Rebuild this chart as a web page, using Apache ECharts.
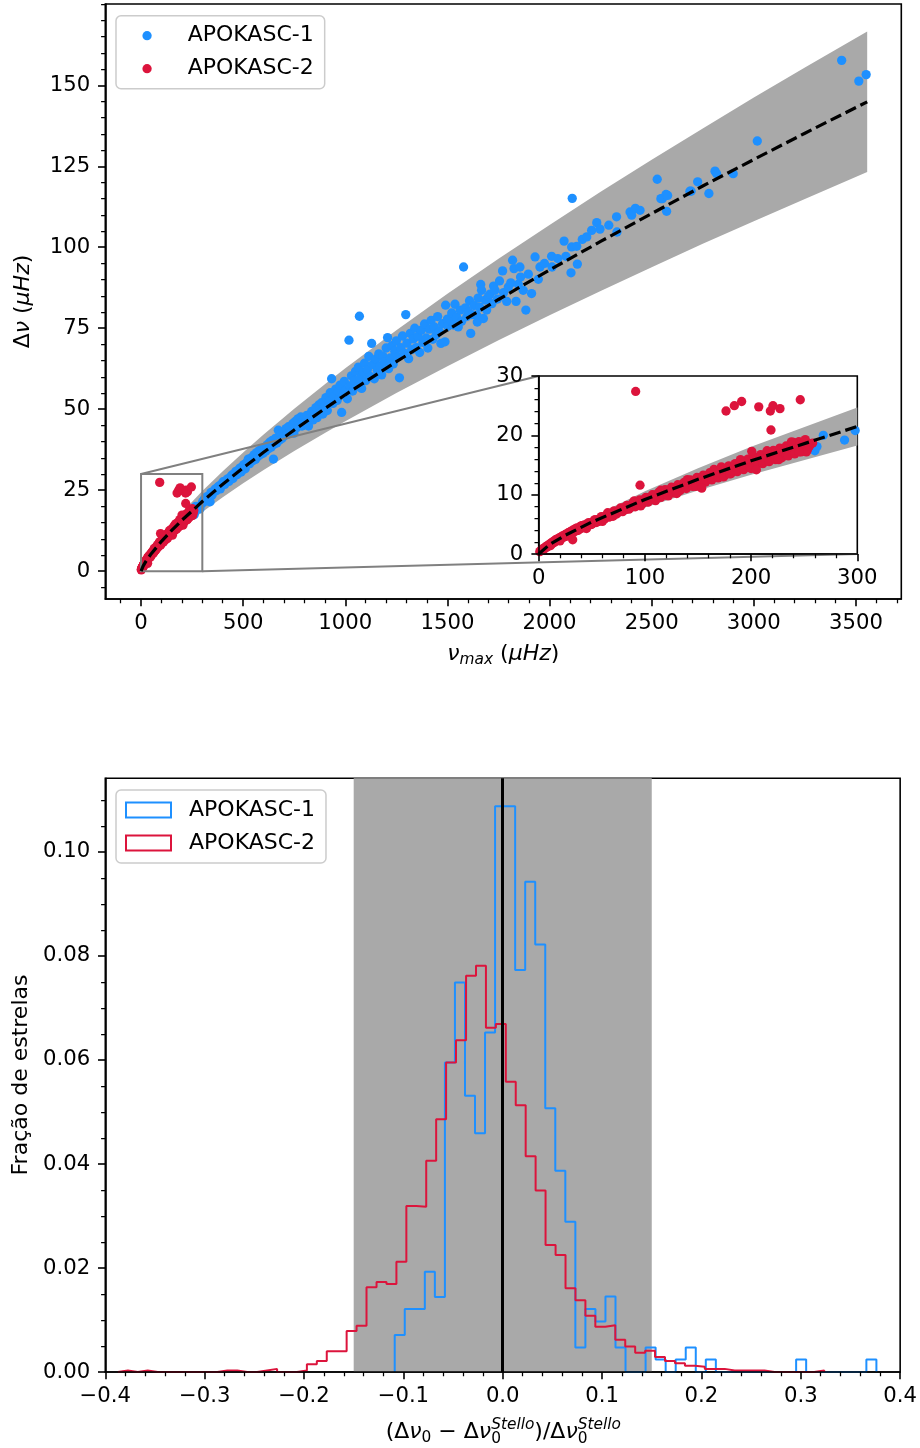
<!DOCTYPE html>
<html><head><meta charset="utf-8">
<script src="https://cdn.jsdelivr.net/npm/echarts@6/dist/echarts.min.js"></script>
<style>html,body{margin:0;padding:0;background:#fff}#c{width:920px;height:1448px}</style>
</head><body><div id="c"></div>
<script>
// ---------------- DATA ----------------
const seriesNames = ['APOKASC-1', 'APOKASC-2'];

// Δν vs νmax, APOKASC-1 (blue)
const apokasc1 = [
[260,17.4],[262,18.1],[268,20.0],[288,19.2],[298,20.8],[302,21.5],[310,22.3],[316,21.6],[323,23.0],[330,22.6],[338,21.4],[342,24.3],[348,23.5],[355,24.6],[362,25.3],[368,24.8],[375,25.9],[382,26.3],[388,25.4],[395,26.9],[402,27.6],[410,26.8],[416,28.0],[424,28.5],[430,27.7],[437,29.0],[444,29.6],[450,28.6],[457,30.1],[464,30.8],[470,29.8],[477,31.2],[484,31.8],[490,30.6],[497,32.4],[504,32.9],[510,31.6],[518,33.6],
[525,34.6],[532,33.2],[540,35.0],[547,34.1],[553,35.9],[560,34.5],[566,36.6],[572,35.4],[579,37.2],[585,36.0],[592,37.9],[598,36.4],[605,38.2],[611,37.1],[618,39.0],[624,37.8],[630,39.8],[637,38.3],[643,40.4],[648,34.6],[652,39.2],[658,41.0],[665,39.6],[672,43.5],[678,40.5],[684,42.3],[690,41.0],[697,43.0],[703,41.8],[710,44.0],[716,42.2],[722,44.6],[729,44.5],[735,43.1],[742,45.5],[748,42.6],[755,46.2],[762,44.3],[768,47.0],[775,45.1],[782,47.6],[788,44.8],[795,46.8],
[805,46.0],[812,48.1],[820,44.8],[828,47.5],[835,49.3],[842,46.7],[850,48.4],[856,50.5],[862,47.4],[870,51.3],[876,49.0],[884,52.0],[890,48.5],[898,50.8],[905,53.6],[912,49.6],[920,52.4],[926,55.1],[933,59.4],[940,51.8],[946,54.0],[953,56.2],[960,52.7],[966,55.5],[974,57.4],[982,49.0],[988,54.4],[995,58.6],[1002,55.8],[1010,53.2],[1018,71.3],[1022,57.2],[1030,60.3],[1036,55.6],[1044,58.8],[1050,61.7],[1058,57.1],[1064,63.0],[1069,78.7],[1072,59.5],[1080,56.4],[1088,61.4],[1094,64.2],[1100,58.8],[1108,62.2],[1115,66.3],[1122,60.1],[1129,70.3],[1135,63.8],[1142,59.4],[1150,65.5],[1156,62.0],[1164,67.1],[1170,63.4],[1178,60.6],[1185,66.3],[1192,64.6],[1200,68.9],[1207,72.1],[1212,62.5],[1220,65.8],[1228,69.6],[1235,64.0],[1242,67.9],[1250,71.1],[1258,66.2],[1265,59.7],[1272,69.0],[1280,72.6],[1288,67.3],[1296,79.2],[1302,70.4],[1310,65.6],[1318,73.4],[1325,68.4],[1333,71.7],[1340,75.0],[1348,69.0],[1356,72.5],[1364,67.5],[1372,74.4],[1380,70.6],[1388,76.3],[1396,72.0],[1404,68.9],[1412,74.7],[1420,77.4],[1428,71.6],[1436,75.4],[1445,73.0],[1452,78.6],[1460,74.0],[1468,70.3],[1476,76.4],[1488,70.8],[1491,82.1],[1500,77.8],
[1502,75.6],[1510,77.9],[1521,79.7],[1530,76.0],[1537,82.4],[1545,78.4],[1553,75.4],[1562,80.6],[1570,77.2],[1579,93.9],[1588,81.3],[1595,78.6],[1602,80.0],[1608,83.5],[1614,73.4],[1620,79.2],[1630,82.0],[1643,79.0],[1646,76.9],[1650,84.3],[1658,81.5],[1663,88.5],[1667,86.7],[1676,78.0],[1685,83.7],[1692,80.6],[1700,84.8],[1708,85.5],[1718,82.6],[1726,88.0],[1733,86.7],[1745,84.0],[1755,89.6],[1770,92.7],[1775,86.0],[1790,83.3],[1798,87.7],[1810,89.0],[1819,96.0],[1826,93.4],[1836,83.3],[1847,88.6],[1855,93.9],[1858,90.8],[1871,86.7],[1884,80.6],[1896,91.7],[1912,85.7],[1929,97.0],[1945,90.1],[1953,93.9],[1975,95.0],[2010,97.2],[2012,93.9],[2040,96.5],[2071,101.9],[2080,97.2],[2105,92.1],[2108,100.1],[2111,115.1],[2133,100.3],[2136,94.8],[2160,102.4],[2182,103.2],
[2206,105.2],[2231,107.6],[2247,105.6],[2290,106.8],[2328,109.4],[2330,104.7],[2394,110.9],[2402,109.9],[2420,112.0],[2443,111.4],[2527,121.0],[2545,115.0],[2552,115.0],[2570,116.3],[2573,111.1],[2578,116.0],[2687,117.3],[2693,117.3],[2725,120.2],[2780,116.6],[2810,123.5],[2818,122.7],[2899,122.7],[3017,132.8],[3430,157.7],[3514,151.3],[3550,153.3]
];

// Δν vs νmax, APOKASC-2 (red)
const apokasc2 = [
[1,0.4],[2,0.6],[3,0.7],[4,0.9],[5,0.8],[6,1.1],[7,1.3],[8,1.2],[9,1.5],[10,1.6],[11,1.4],[12,1.9],[13,1.8],[14,2.1],[15,2.0],[16,2.4],[17,2.3],[18,2.6],[19,2.4],[20,2.8],[21,2.6],[22,3.0],[23,2.8],[24,3.1],[25,3.3],[26,3.0],[27,3.4],[28,3.6],[29,3.3],[30,3.8],[31,3.5],[32,4.0],[33,3.7],[34,4.2],[35,3.9],[36,4.4],[37,4.1],[38,4.3],[39,4.6],[40,4.3],[41,4.7],[42,4.5],[43,4.9],[44,4.6],[45,5.0],[46,4.8],[48,5.2],[50,5.0],[52,5.6],[54,5.3],[56,5.8],[58,5.6],[60,6.2],[62,5.9],[64,6.5],[66,6.2],[68,6.8],[70,6.6],[72,7.1],[74,6.9],[76,7.4],[78,7.2],[80,7.8],[82,7.5],[84,8.1],[86,7.8],[88,8.4],[90,8.2],[92,8.7],[94,8.4],[96,9.0],[98,8.6],[100,9.3],[102,9.0],[104,9.5],[106,9.2],[108,9.9],[110,9.6],[112,10.1],[114,9.8],[116,10.4],[118,10.1],[120,10.7],[122,10.3],[124,10.9],[126,10.6],[128,11.2],[130,10.9],[132,11.4],[134,11.1],[136,11.8],[138,11.4],[140,12.0],[142,11.6],[144,12.2],[146,11.9],[148,12.5],[150,12.1],[152,12.7],[154,12.4],[156,12.9],[158,12.6],[160,13.2],[162,12.8],[164,13.4],[166,13.1],[168,13.7],[170,13.3],[172,13.9],[174,13.5],[176,14.2],[178,13.8],[180,14.4],[182,14.0],[184,14.6],[186,14.3],[188,15.0],[190,14.5],[192,15.2],[194,14.8],[196,15.4],[198,15.0],[200,15.6],[202,15.2],[204,15.9],[206,15.4],[208,16.1],[210,15.6],[212,16.3],[214,15.9],[216,16.5],[218,16.1],[220,16.7],[222,16.3],[224,17.0],[226,16.5],[228,17.2],[230,16.7],[232,17.4],[234,17.0],[236,17.6],[238,17.2],[240,17.8],[242,17.4],[244,18.1],[246,17.6],[248,18.3],[250,17.9],[252,18.5],[254,18.0],[256,18.6],
[5,0.94],[11,1.73],[17,2.41],[23,3.05],[29,3.65],[35,4.21],[41,4.76],[47,5.29],[53,5.80],[59,6.30],[65,6.80],[71,7.28],[77,7.75],[83,8.21],[89,8.66],[95,9.11],[101,9.55],[107,9.99],[113,10.41],[119,10.84],[125,11.26],[131,11.67],[137,12.08],[143,12.48],[149,12.89],[155,13.29],[161,13.69],[167,14.08],[173,14.47],[179,14.86],[185,15.24],[191,15.61],[197,16.00],[203,16.37],[209,16.75],[215,17.12],[221,17.48],[227,17.84],[233,18.21],[239,18.57],[245,18.93],[251,19.28],
[7,1.10],[13,1.77],[19,2.37],[25,2.94],[31,3.47],[37,3.97],[43,4.46],[49,4.94],[55,5.39],[61,5.84],[67,6.29],[73,6.72],[79,7.14],[85,7.55],[91,7.95],[97,8.35],[103,8.74],[109,9.15],[115,9.53],[121,9.91],[127,10.29],[133,10.67],[139,11.03],[145,11.40],[151,11.76],[157,12.12],[163,12.48],[169,12.83],[175,13.19],[181,13.53],[187,13.88],[193,14.21],[199,14.55],[205,14.90],[211,15.23],[217,15.56],[223,15.89],[229,16.22],[235,16.54],[241,16.88],[247,17.20],[253,17.52],
[15,2.25],[40,4.75],[65,6.95],[90,8.95],[115,10.75],[140,12.55],[165,14.25],[190,15.9],[215,17.4],[240,18.8],
[18,2.3],[44,4.45],[70,6.35],[96,8.1],[122,9.8],[148,11.4],[174,13.0],[200,14.4],[226,15.9],[252,17.2],
[153.5,11.1],[205,14.2],[32,2.4],[84,7.8],[238,18.9],[200.6,17.3],[172,14.7],[130,10.2],[110,9.0],[60,5.5],[45,4.3],[20,2.2],[180,13.5],[225,16.0],[245,17.2],[250,18.9],[255,18.2],[258,18.7],
[91.3,27.4],[95.4,11.6],[176.4,24.1],[184.2,25.0],[191.1,25.7],[207.2,24.8],[218.1,24.1],[220.6,25.0],[227.2,24.5],[218.7,20.9],[246.3,26.0]
];

// scaling relation curve and ±15% band
const fitNuMax   = [0, 10, 25, 50, 100, 150, 200, 300, 400, 500, 600, 750, 900, 1000, 1250, 1500, 1750, 2000, 2250, 2500, 2750, 3000, 3250, 3555];
const fitDeltaNu = [0, 1.56, 3.16, 5.39, 9.20, 12.58, 15.71, 21.49, 26.84, 31.88, 36.70, 43.60, 50.20, 54.45, 64.67, 74.45, 83.87, 92.98, 101.8, 110.4, 118.9, 127.1, 135.2, 144.9];
const bandUpper  = [0, 1.79, 3.63, 6.20, 10.58, 14.47, 18.07, 24.71, 30.87, 36.66, 42.21, 50.14, 57.73, 62.62, 74.37, 85.62, 96.45, 106.9, 117.1, 127.0, 136.7, 146.2, 155.5, 166.6];
const bandLower  = [0, 1.32, 2.69, 4.58, 7.82, 10.69, 13.35, 18.27, 22.81, 27.10, 31.20, 37.06, 42.67, 46.28, 54.97, 63.28, 71.29, 79.03, 86.53, 93.84, 101.1, 108.0, 114.9, 123.2];

// zoomed region [xmin, ymin, xmax, ymax]
const zoomBox = [0, 0, 300, 30];

// histograms: bin edges and fraction of stars
const histEdges1 = [-0.1087,-0.0986,-0.0885,-0.0784,-0.0683,-0.0582,-0.0481,-0.0380,-0.0279,-0.0178,-0.0077,0.0024,0.0125,0.0226,0.0327,0.0428,0.0529,0.0630,0.0731,0.0832,0.0933,0.1034,0.1135,0.1236,0.1337,0.1438,0.1539,0.1640,0.1741,0.1842,0.1943,0.2044,0.2145,0.2246,0.2347,0.2448,0.2549,0.2650,0.2751,0.2852,0.2953,0.3054,0.3155,0.3256,0.3357,0.3458,0.3559,0.3660,0.3761];
const histFrac1 = [0.0071,0.0121,0.0121,0.0193,0.0144,0.0595,0.0749,0.0531,0.0459,0.0653,0.1088,0.1088,0.0773,0.0943,0.0822,0.0507,0.0387,0.0289,0.0047,0.0121,0.0097,0.0145,0.0047,0,0,0.0047,0.0024,0,0.0024,0.0047,0,0.0024,0,0,0,0,0,0,0,0,0.0024,0,0,0,0,0,0,0.0024];
const histEdges2 = [-0.3873,-0.3773,-0.3673,-0.3573,-0.3473,-0.3373,-0.3272,-0.3172,-0.3072,-0.2972,-0.2872,-0.2772,-0.2672,-0.2572,-0.2472,-0.2372,-0.2271,-0.2171,-0.2071,-0.1971,-0.1871,-0.1771,-0.1671,-0.1571,-0.1471,-0.1371,-0.1270,-0.1170,-0.1070,-0.0970,-0.0870,-0.0770,-0.0670,-0.0570,-0.0470,-0.0369,-0.0269,-0.0169,-0.0069,0.0031,0.0131,0.0231,0.0331,0.0431,0.0532,0.0632,0.0732,0.0832,0.0932,0.1032,0.1133,0.1233,0.1333,0.1433,0.1533,0.1633,0.1734,0.1834,0.1934,0.2034,0.2134,0.2234,0.2335,0.2435,0.2535,0.2635,0.2735,0.2835,0.2936,0.3036,0.3136,0.3236];
const histFrac2 = [0.0003,0,0.0003,0,0,0,0,0,0,0,0.0003,0.0003,0,0,0.0003,0.0006,0,0,0.0003,0.0015,0.0021,0.0040,0.0040,0.0079,0.0089,0.0163,0.0173,0.0169,0.0212,0.0319,0.0318,0.0406,0.0486,0.0595,0.0638,0.0762,0.0781,0.0662,0.0669,0.0558,0.0513,0.0415,0.0349,0.0244,0.0225,0.0161,0.0138,0.0108,0.0087,0.0090,0.0062,0.0049,0.0037,0.0041,0.0029,0.0021,0.0017,0.0012,0.0010,0.0006,0.0006,0.0003,0.0003,0.0003,0.0003,0,0,0,0,0,0.0003];
const spanLimits = [-0.15, 0.15];
const zeroLine = 0;

// tick labels
const mainXTicks = [0, 500, 1000, 1500, 2000, 2500, 3000, 3500];
const mainYTicks = [0, 25, 50, 75, 100, 125, 150];
const insetXTicks = [0, 100, 200, 300];
const insetYTicks = [0, 10, 20, 30];
const histXTicks = [-0.4, -0.3, -0.2, -0.1, 0, 0.1, 0.2, 0.3, 0.4];
const histYTicks = [0, 0.02, 0.04, 0.06, 0.08, 0.10];

// ---------------- STYLE / LAYOUT ----------------
const FONT = 'DejaVu Sans';
const TICK_FS = 21.2, TEXT_FS = 22;
const BLUE = '#1e90ff', RED = '#dc143c', GRAY = '#a9a9a9';
const MAIN = {xmin: -175, xmax: 3722, ymin: -8.6, ymax: 175.1};
const HIST = {xmin: -0.4, xmax: 0.4, ymin: 0, ymax: 0.11417};

function minorTicks(min, max, step, majors) {
  const out = [];
  for (let k = Math.ceil(min / step - 1e-9); k * step <= max + 1e-12; k++) {
    const v = +(k * step).toFixed(6);
    if (!majors.some(m => Math.abs(m - v) < 1e-9)) out.push(v);
  }
  return out;
}
function majorAxis(o) {
  return {
    type: 'value', gridIndex: o.grid, min: o.min, max: o.max, position: o.pos, z: o.z || 2,
    axisLine: {show: true, onZero: false, lineStyle: {color: '#000', width: 1.6}},
    splitLine: {show: false}, minorTick: {show: false},
    axisTick: {show: true, inside: false, length: 7.3, lineStyle: {color: '#000', width: 1.6}, customValues: o.ticks},
    axisLabel: {show: true, customValues: o.ticks, formatter: o.fmt, margin: o.margin, color: '#000',
      fontSize: TICK_FS, fontFamily: FONT, showMinLabel: true, showMaxLabel: true, hideOverlap: false}
  };
}
function minorAxis(o) {
  return {
    type: 'value', gridIndex: o.grid, min: o.min, max: o.max, position: o.pos, z: o.z || 2,
    axisLine: {show: false, onZero: false}, splitLine: {show: false}, axisLabel: {show: false},
    axisTick: {show: true, inside: false, length: 4.2, lineStyle: {color: '#000', width: 1.25},
      customValues: minorTicks(o.min, o.max, o.step, o.ticks)}
  };
}
const intFmt = v => String(Math.round(v));
const histXFmt = v => (v < -1e-9 ? '\u2212' + Math.abs(v).toFixed(1) : Math.abs(v).toFixed(1));
const histYFmt = v => v.toFixed(2);

function bandRenderer(xs, up, lo) {
  return function (params, api) {
    const pts = [];
    for (let i = 0; i < xs.length; i++) pts.push(api.coord([xs[i], up[i]]));
    for (let i = xs.length - 1; i >= 0; i--) pts.push(api.coord([xs[i], lo[i]]));
    return {type: 'polygon', shape: {points: pts}, style: {fill: GRAY}};
  };
}
function stepData(edges, h) {
  const d = [[edges[0], 0]];
  for (let i = 0; i < h.length; i++) d.push([edges[i], h[i]]);
  d.push([edges[h.length], 0]);
  return d;
}
const insetIdx = fitNuMax.map((x, i) => i).filter(i => fitNuMax[i] <= zoomBox[2]);
const inX = insetIdx.map(i => fitNuMax[i]);
const inFit = insetIdx.map(i => fitDeltaNu[i]);
const inUp = insetIdx.map(i => bandUpper[i]);
const inLo = insetIdx.map(i => bandLower[i]);

function legendOpt(top, iconW, iconH, padLeft, gap, items) {
  return {
    left: 116, top: top, orient: 'vertical', selectedMode: false,
    padding: [8, 11, 8, padLeft], itemGap: 9, itemWidth: iconW, itemHeight: iconH,
    backgroundColor: 'rgba(255,255,255,0.8)', borderColor: '#cccccc', borderWidth: 1.5, borderRadius: 5,
    formatter: '{g| }{t|{name}}',
    textStyle: {fontSize: TEXT_FS, fontFamily: FONT, color: '#000', lineHeight: 24,
      rich: {g: {width: gap, fontSize: TEXT_FS, lineHeight: 24}, t: {fontSize: TEXT_FS, fontFamily: FONT, color: '#000', lineHeight: 24}}},
    data: items
  };
}

const chart = echarts.init(document.getElementById('c'), null, {renderer: 'canvas', width: 920, height: 1448});

const option = {
  animation: false,
  backgroundColor: '#fff',
  grid: [
    {left: 105.3, top: 4, width: 796, height: 595, show: true, borderColor: '#000', borderWidth: 1.6, backgroundColor: 'rgba(0,0,0,0)'},
    {left: 538.7, top: 376, width: 318.6, height: 178, show: true, borderColor: '#000', borderWidth: 1.6, backgroundColor: '#fff'},
    {left: 105.3, top: 778.3, width: 796, height: 593.7, show: true, borderColor: '#000', borderWidth: 1.6, backgroundColor: 'rgba(0,0,0,0)'}
  ],
  xAxis: [
    majorAxis({grid: 0, min: MAIN.xmin, max: MAIN.xmax, pos: 'bottom', ticks: mainXTicks, fmt: intFmt, margin: 13.5}),
    minorAxis({grid: 0, min: MAIN.xmin, max: MAIN.xmax, pos: 'bottom', ticks: mainXTicks, step: 100}),
    majorAxis({grid: 1, min: zoomBox[0], max: zoomBox[2], pos: 'bottom', ticks: insetXTicks, fmt: intFmt, margin: 13.5, z: 5}),
    minorAxis({grid: 1, min: zoomBox[0], max: zoomBox[2], pos: 'bottom', ticks: insetXTicks, step: 20, z: 5}),
    majorAxis({grid: 2, min: HIST.xmin, max: HIST.xmax, pos: 'bottom', ticks: histXTicks, fmt: histXFmt, margin: 14, z: 5}),
    minorAxis({grid: 2, min: HIST.xmin, max: HIST.xmax, pos: 'bottom', ticks: histXTicks, step: 0.02, z: 5})
  ],
  yAxis: [
    majorAxis({grid: 0, min: MAIN.ymin, max: MAIN.ymax, pos: 'left', ticks: mainYTicks, fmt: intFmt, margin: 15}),
    minorAxis({grid: 0, min: MAIN.ymin, max: MAIN.ymax, pos: 'left', ticks: mainYTicks, step: 5}),
    majorAxis({grid: 1, min: zoomBox[1], max: zoomBox[3], pos: 'left', ticks: insetYTicks, fmt: intFmt, margin: 15.5, z: 5}),
    minorAxis({grid: 1, min: zoomBox[1], max: zoomBox[3], pos: 'left', ticks: insetYTicks, step: 2, z: 5}),
    majorAxis({grid: 2, min: HIST.ymin, max: HIST.ymax, pos: 'left', ticks: histYTicks, fmt: histYFmt, margin: 15}),
    minorAxis({grid: 2, min: HIST.ymin, max: HIST.ymax, pos: 'left', ticks: histYTicks, step: 0.005})
  ],
  legend: [
    legendOpt(15.7, 9.3, 9.3, 26.4, 31, [
      {name: seriesNames[0], icon: 'circle', itemStyle: {color: BLUE, borderWidth: 0}},
      {name: seriesNames[1], icon: 'circle', itemStyle: {color: RED, borderWidth: 0}}
    ]),
    legendOpt(790, 45, 15, 9, 13, [
      {name: seriesNames[0], icon: 'rect', itemStyle: {color: 'rgba(255,255,255,0)', borderColor: BLUE, borderWidth: 2}},
      {name: seriesNames[1], icon: 'rect', itemStyle: {color: 'rgba(255,255,255,0)', borderColor: RED, borderWidth: 2}}
    ])
  ],
  series: [
    {name: seriesNames[0], type: 'scatter', xAxisIndex: 0, yAxisIndex: 0, data: apokasc1, symbolSize: 9.3, itemStyle: {color: BLUE, opacity: 1}, z: 2, silent: true, clip: true},
    {name: seriesNames[1], type: 'scatter', xAxisIndex: 0, yAxisIndex: 0, data: apokasc2, symbolSize: 9.3, itemStyle: {color: RED, opacity: 1}, z: 2, silent: true, clip: true},
    {name: 'band', type: 'custom', xAxisIndex: 0, yAxisIndex: 0, data: [[0, 0]], renderItem: bandRenderer(fitNuMax, bandUpper, bandLower), z: 1, silent: true, clip: true},
    {name: 'fit', type: 'line', xAxisIndex: 0, yAxisIndex: 0, data: fitNuMax.map((x, i) => [x, fitDeltaNu[i]]), symbol: 'none', lineStyle: {color: '#000', width: 3.2, type: [11.6, 5]}, z: 4, silent: true},
    {name: 'zoomRect', type: 'custom', xAxisIndex: 0, yAxisIndex: 0, data: [zoomBox], z: 3, silent: true,
      renderItem: function (params, api) {
        const p0 = api.coord([zoomBox[0], zoomBox[3]]);
        const p1 = api.coord([zoomBox[2], zoomBox[1]]);
        return {type: 'rect', shape: {x: p0[0], y: p0[1], width: p1[0] - p0[0], height: p1[1] - p0[1]}, style: {fill: 'none', stroke: '#808080', lineWidth: 2}};
      }},
    {name: 'bandInset', type: 'custom', xAxisIndex: 2, yAxisIndex: 2, data: [[0, 0]], renderItem: bandRenderer(inX, inUp, inLo), z: 1, silent: true, clip: true},
    {name: seriesNames[0], type: 'scatter', xAxisIndex: 2, yAxisIndex: 2, data: apokasc1, symbolSize: 9.3, itemStyle: {color: BLUE, opacity: 1}, z: 2, silent: true, clip: true},
    {name: seriesNames[1], type: 'scatter', xAxisIndex: 2, yAxisIndex: 2, data: apokasc2, symbolSize: 9.3, itemStyle: {color: RED, opacity: 1}, z: 2, silent: true, clip: true},
    {name: 'fitInset', type: 'line', xAxisIndex: 2, yAxisIndex: 2, data: inX.map((x, i) => [x, inFit[i]]), symbol: 'none', lineStyle: {color: '#000', width: 3.2, type: [11.6, 5]}, z: 4, silent: true},
    {name: 'span', type: 'line', xAxisIndex: 4, yAxisIndex: 4, data: [], z: 1, silent: true,
      markArea: {silent: true, itemStyle: {color: GRAY, opacity: 1}, data: [[{xAxis: spanLimits[0]}, {xAxis: spanLimits[1]}]]}},
    {name: seriesNames[0], type: 'line', xAxisIndex: 4, yAxisIndex: 4, step: 'end', data: stepData(histEdges1, histFrac1), symbol: 'none', showSymbol: false, lineStyle: {color: BLUE, width: 2}, itemStyle: {color: BLUE}, z: 3, silent: true},
    {name: seriesNames[1], type: 'line', xAxisIndex: 4, yAxisIndex: 4, step: 'end', data: stepData(histEdges2, histFrac2), symbol: 'none', showSymbol: false, lineStyle: {color: RED, width: 2}, itemStyle: {color: RED}, z: 3, silent: true},
    {name: 'zero', type: 'line', xAxisIndex: 4, yAxisIndex: 4, data: [], z: 4, silent: true,
      markLine: {silent: true, symbol: ['none', 'none'], label: {show: false}, lineStyle: {color: '#000', width: 3, type: 'solid'}, data: [{xAxis: zeroLine}]}}
  ]
};
chart.setOption(option);

// -------- math-like axis titles --------
const mctx = document.createElement('canvas').getContext('2d');
function fontStr(p) { return (p.it ? 'italic ' : '') + p.s + 'px "' + FONT + '"'; }
function mathTitle(pieces, cx, cy, rotation) {
  let total = 0; const offs = [];
  for (const p of pieces) { mctx.font = fontStr(p); const w = mctx.measureText(p.t).width; offs.push(total); if (p.adv !== false) total += w; }
  const children = pieces.map((p, i) => ({
    type: 'text', x: offs[i] - total / 2, y: (p.b || 0) - 0.346 * p.s,
    style: {text: p.t, font: fontStr(p), fill: '#000', textAlign: 'left', textVerticalAlign: 'middle', align: 'left', verticalAlign: 'middle'}
  }));
  return {type: 'group', x: cx, y: cy, rotation: rotation || 0, children: children, z: 6};
}
const S = TEXT_FS, s = 15.4;
const titleTopX = mathTitle([
  {t: '\u03bd', s: S, it: true}, {t: 'max', s: s, it: true, b: 3.5}, {t: ' (', s: S}, {t: '\u03bcHz', s: S, it: true}, {t: ')', s: S}
], 503.3, 662, 0);
const titleTopY = mathTitle([
  {t: '\u0394', s: S}, {t: '\u03bd', s: S, it: true}, {t: ' (', s: S}, {t: '\u03bcHz', s: S, it: true}, {t: ')', s: S}
], 31, 301.5, Math.PI / 2);
const titleBotX = mathTitle([
  {t: '(\u0394', s: S}, {t: '\u03bd', s: S, it: true}, {t: '0', s: s, b: 3.5},
  {t: ' \u2212 \u0394', s: S}, {t: '\u03bd', s: S, it: true}, {t: '0', s: s, b: 4.5, adv: false}, {t: 'Stello', s: s, it: true, b: -9.5},
  {t: ')/\u0394', s: S}, {t: '\u03bd', s: S, it: true}, {t: '0', s: s, b: 4.5, adv: false}, {t: 'Stello', s: s, it: true, b: -9.5}
], 503.3, 1440, 0);
const titleBotY = mathTitle([{t: 'Fra\u00e7\u00e3o de estrelas', s: S}], 29, 1075, Math.PI / 2);

const a1 = chart.convertToPixel({xAxisIndex: 0, yAxisIndex: 0}, [zoomBox[0], zoomBox[3]]);
const b1 = chart.convertToPixel({xAxisIndex: 2, yAxisIndex: 2}, [zoomBox[0], zoomBox[3]]);
const a2 = chart.convertToPixel({xAxisIndex: 0, yAxisIndex: 0}, [zoomBox[2], zoomBox[1]]);
const b2 = chart.convertToPixel({xAxisIndex: 2, yAxisIndex: 2}, [zoomBox[2], zoomBox[1]]);

chart.setOption({
  graphic: {elements: [
    {type: 'line', shape: {x1: a1[0], y1: a1[1], x2: b1[0], y2: b1[1]}, style: {stroke: '#808080', lineWidth: 2}, z: 3, silent: true},
    {type: 'line', shape: {x1: a2[0], y1: a2[1], x2: b2[0], y2: b2[1]}, style: {stroke: '#808080', lineWidth: 2}, z: 3, silent: true},
    titleTopX, titleTopY, titleBotX, titleBotY
  ]}
});
</script>
</body></html>
